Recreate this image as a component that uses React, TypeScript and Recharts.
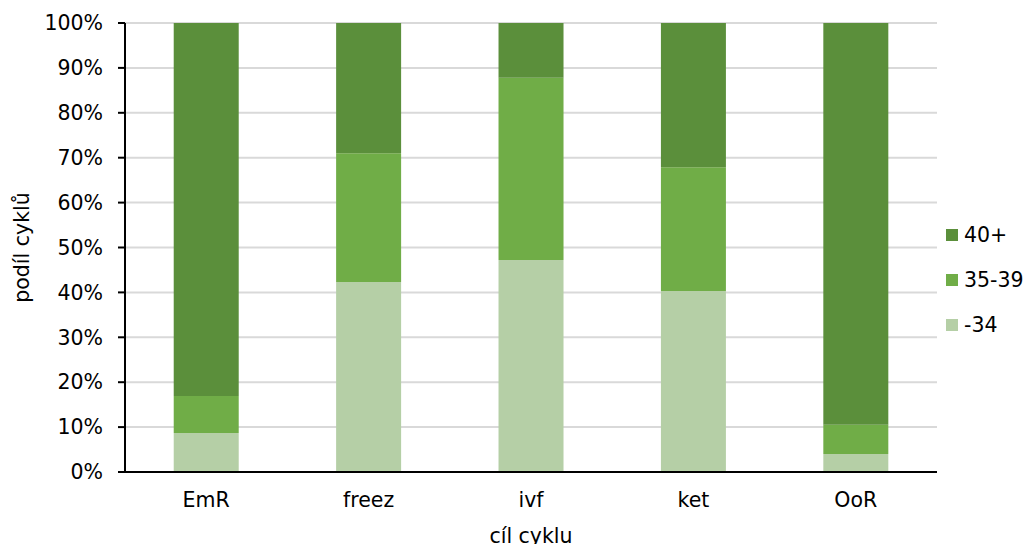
import React from 'react';
import { BarChart, Bar, XAxis, YAxis, CartesianGrid } from 'recharts';

const categories = ['EmR', 'freez', 'ivf', 'ket', 'OoR'];
const under34 = [8.7, 42.3, 47.2, 40.3, 4.0];
const age35to39 = [8.2, 28.7, 40.6, 27.6, 6.5];
const over40 = [83.1, 29.0, 12.2, 32.1, 89.5];
const yTicks = [0, 10, 20, 30, 40, 50, 60, 70, 80, 90, 100];

const series = [
  { key: 'over40', name: '40+', color: '#5b8f3b' },
  { key: 'age35to39', name: '35-39', color: '#70ad47' },
  { key: 'under34', name: '-34', color: '#b5cfa6' },
];

const data = categories.map((c, i) => ({
  name: c,
  under34: under34[i],
  age35to39: age35to39[i],
  over40: over40[i],
}));

const font = '"DejaVu Sans", Verdana, sans-serif';
const fs = 20.5;

const LegendBox = () => (
  <div style={{ position: 'absolute', left: 946, top: 212, fontFamily: font, fontSize: fs, color: '#000' }}>
    {series.map((s) => (
      <div key={s.key} style={{ display: 'flex', alignItems: 'center', height: 45 }}>
        <span style={{ display: 'inline-block', width: 12, height: 12, background: s.color, marginRight: 6 }} />
        <span>{s.name}</span>
      </div>
    ))}
  </div>
);

export default function App() {
  return (
    <div style={{ position: 'absolute', left: 0, top: 0, width: 1030, height: 544, background: '#fff', overflow: 'hidden' }}>
      <BarChart
        width={1030}
        height={544}
        data={data}
        margin={{ top: 23, right: 93, bottom: 0, left: 0 }}
        barCategoryGap="30%"
      >
        <CartesianGrid vertical={false} stroke="#d9d9d9" strokeWidth={2} />
        <XAxis
          dataKey="name"
          height={72}
          tickLine={false}
          axisLine={{ stroke: '#000', strokeWidth: 2 }}
          tick={{ fill: '#000', fontSize: fs, fontFamily: font }}
          tickMargin={14}
          label={{ value: 'cíl cyklu', position: 'insideBottom', offset: 1, fill: '#000', fontSize: fs, fontFamily: font }}
        />
        <YAxis
          width={125}
          domain={[0, 100]}
          ticks={yTicks}
          interval={0}
          tickFormatter={(v) => `${v}%`}
          tickSize={7}
          tickLine={{ stroke: '#000', strokeWidth: 2 }}
          axisLine={{ stroke: '#000', strokeWidth: 2 }}
          tick={{ fill: '#000', fontSize: fs, fontFamily: font }}
          tickMargin={15}
          label={{ value: 'podíl cyklů', angle: -90, position: 'insideLeft', offset: 22, style: { textAnchor: 'middle' }, fill: '#000', fontSize: fs, fontFamily: font }}
        />
        <Bar dataKey="under34" name="-34" stackId="a" fill="#b5cfa6" isAnimationActive={false} />
        <Bar dataKey="age35to39" name="35-39" stackId="a" fill="#70ad47" isAnimationActive={false} />
        <Bar dataKey="over40" name="40+" stackId="a" fill="#5b8f3b" isAnimationActive={false} />
      </BarChart>
      <LegendBox />
    </div>
  );
}
